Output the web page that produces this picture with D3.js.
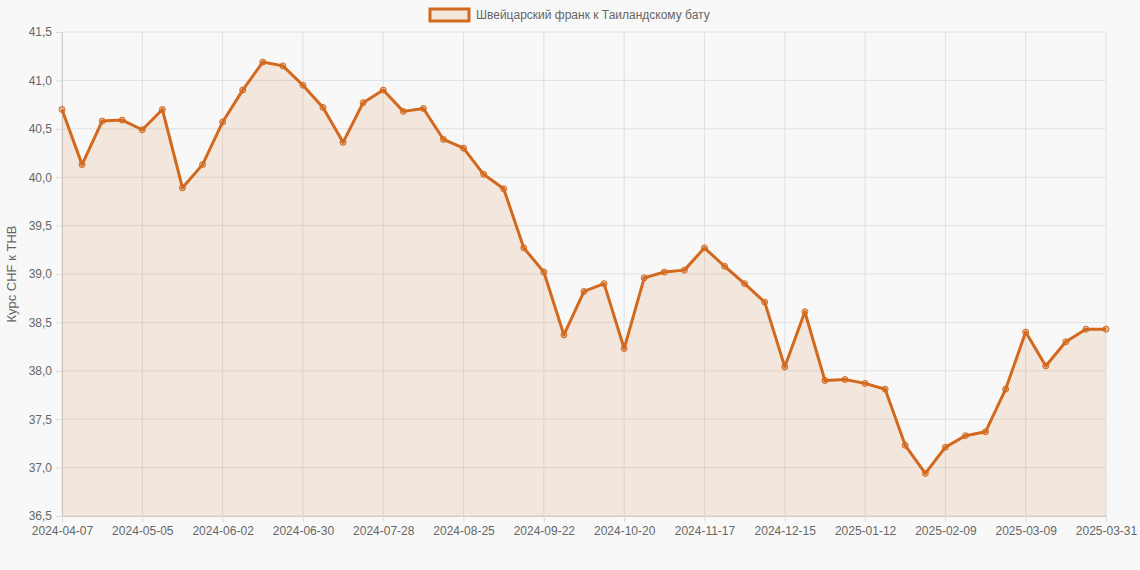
<!DOCTYPE html>
<html>
<head>
<meta charset="utf-8">
<script src="https://cdn.jsdelivr.net/npm/d3@7"></script>
<style>
  body { margin: 0; background: #f8f8f8; }
  text { font-family: "Liberation Sans", Arial, sans-serif; }
</style>
</head>
<body>
<div class="canvas"></div>
<script>
const svgWidth = 1140;
const svgHeight = 570;

// weekly CHF/THB rate
const rates = [
  40.70, 40.13, 40.58, 40.59, 40.49, 40.70, 39.89, 40.13, 40.57, 40.90,
  41.19, 41.15, 40.95, 40.72, 40.36, 40.77, 40.90, 40.68, 40.71, 40.39,
  40.30, 40.03, 39.88, 39.27, 39.02, 38.37, 38.82, 38.90, 38.23, 38.96,
  39.02, 39.04, 39.27, 39.08, 38.90, 38.71, 38.04, 38.61, 37.90, 37.91,
  37.87, 37.81, 37.23, 36.94, 37.21, 37.33, 37.37, 37.81, 38.40, 38.05,
  38.30, 38.43, 38.43
];
const yTicks = [36.5, 37.0, 37.5, 38.0, 38.5, 39.0, 39.5, 40.0, 40.5, 41.0, 41.5];

// dates: weekly from 2024-04-07, last point is 2025-03-31
const fmt = d3.timeFormat('%Y-%m-%d');
const dates = rates.map((r, i) => fmt(d3.timeDay.offset(new Date(2024, 3, 7), i * 7)));
dates[dates.length - 1] = '2025-03-31';
const shownLabels = dates.filter((d, i) => i % 4 === 0 || i === dates.length - 1);

const margin = { top: 32, right: 34, bottom: 54, left: 62 };
const graphWidth = svgWidth - margin.left - margin.right;
const graphHeight = svgHeight - margin.top - margin.bottom;

const svg = d3.select('.canvas')
    .append('svg')
    .attr('width', svgWidth)
    .attr('height', svgHeight);

const graph = svg.append('g')
    .attr('transform', `translate(${margin.left}, ${margin.top})`);

const x = d3.scalePoint().domain(dates).range([0, graphWidth]);
const y = d3.scaleLinear().domain([36.5, 41.5]).range([graphHeight, 0]);

// grid
graph.append('g').selectAll('line.h')
    .data(yTicks).enter().append('line')
    .attr('x1', 0).attr('x2', graphWidth)
    .attr('y1', d => y(d)).attr('y2', d => y(d))
    .attr('stroke', '#e0e0e0');
graph.append('g').selectAll('line.v')
    .data(shownLabels).enter().append('line')
    .attr('x1', d => x(d)).attr('x2', d => x(d))
    .attr('y1', 0).attr('y2', graphHeight)
    .attr('stroke', '#e0e0e0');

// axes
const xAxis = d3.axisBottom(x).tickValues(shownLabels).tickSize(6).tickPadding(4);
const yAxis = d3.axisLeft(y).tickValues(yTicks).tickSize(6).tickPadding(4)
    .tickFormat(d => d3.format('.1f')(d).replace('.', ','));

const xAxisGroup = graph.append('g').attr('transform', `translate(0, ${graphHeight})`).call(xAxis);
const yAxisGroup = graph.append('g').call(yAxis);
[xAxisGroup, yAxisGroup].forEach(g => {
  g.select('.domain').attr('stroke', '#ccc');
  g.selectAll('.tick line').attr('stroke', '#ddd');
  g.selectAll('text').attr('fill', '#666').style('font-size', '12px');
});

// area + line
const area = d3.area().x((d, i) => x(dates[i])).y0(graphHeight).y1(d => y(d));
const line = d3.line().x((d, i) => x(dates[i])).y(d => y(d));

graph.append('path').datum(rates).attr('d', area)
    .attr('fill', 'rgba(210,105,30,0.12)');
graph.append('path').datum(rates).attr('d', line)
    .attr('fill', 'none').attr('stroke', '#d2691e').attr('stroke-width', 3)
    .attr('stroke-linejoin', 'round');
graph.selectAll('circle').data(rates).enter().append('circle')
    .attr('cx', (d, i) => x(dates[i])).attr('cy', d => y(d)).attr('r', 3)
    .attr('fill', 'rgba(210,105,30,0.4)').attr('stroke', '#d2691e').attr('stroke-width', 1);

// y title
svg.append('text')
    .attr('transform', `translate(16, ${margin.top + graphHeight / 2}) rotate(-90)`)
    .attr('text-anchor', 'middle').attr('fill', '#666').style('font-size', '13px')
    .text('Курс CHF к THB');

// legend
const legendText = 'Швейцарский франк к Таиландскому бату';
const leg = svg.append('g');
const lt = leg.append('text').attr('x', 476).attr('y', 19)
    .attr('fill', '#666').style('font-size', '12px').text(legendText);
leg.append('rect').attr('x', 430).attr('y', 9).attr('width', 39).attr('height', 12)
    .attr('fill', 'rgba(210,105,30,0.12)').attr('stroke', '#d2691e').attr('stroke-width', 3);
</script>
</body>
</html>
